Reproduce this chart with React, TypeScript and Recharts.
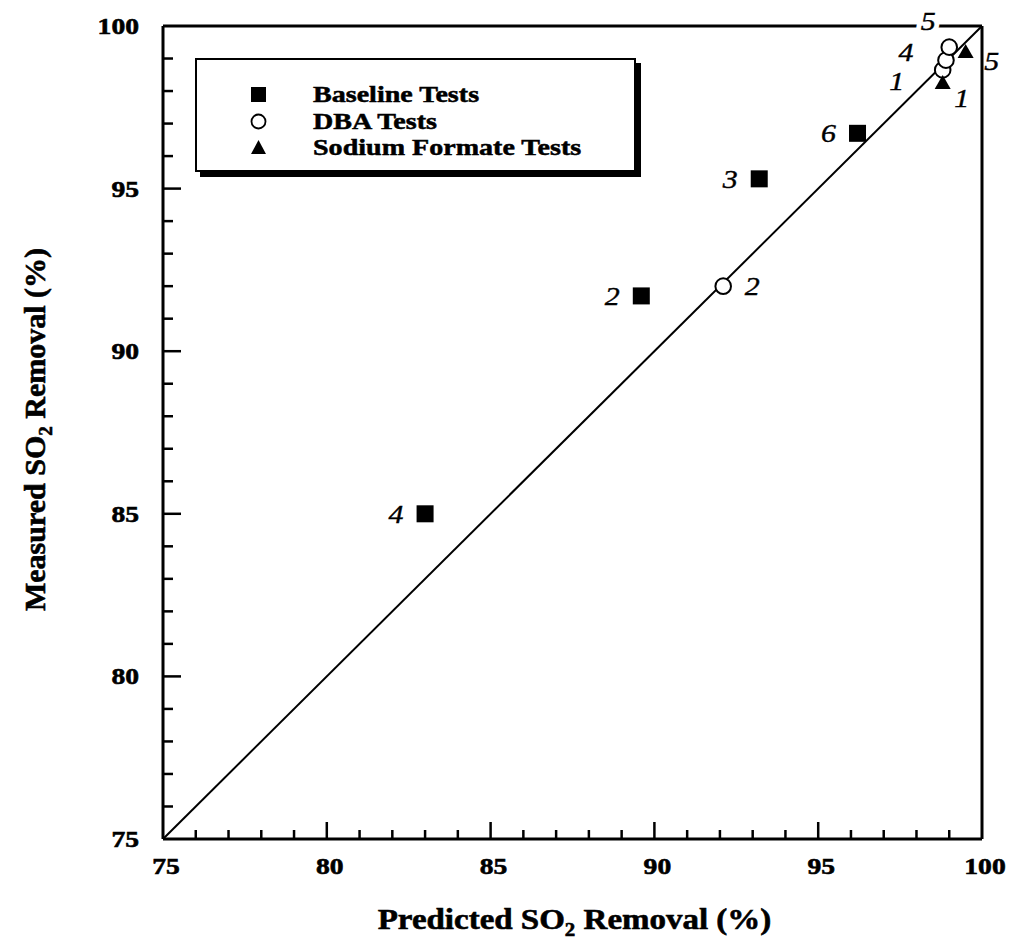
import React from 'react';
import { ScatterChart, Scatter, XAxis, YAxis, ReferenceLine, Legend } from 'recharts';

const FONT = '"Liberation Serif", "Times New Roman", Times, serif';
const INK = '#000';

// Predicted vs. measured SO2 removal (%) per test run
const baselineRuns = ['4', '2', '3', '6'];
const baselinePredicted = [83.0, 89.6, 93.2, 96.2];
const baselineMeasured = [85.0, 91.7, 95.3, 96.7];

const dbaRuns = ['2', '1', '4', '5'];
const dbaPredicted = [92.1, 98.8, 98.9, 99.0];
const dbaMeasured = [92.0, 98.65, 98.95, 99.35];

const formateRuns = ['1', '5'];
const formatePredicted = [98.8, 99.5];
const formateMeasured = [98.25, 99.2];

const seriesNames = ['Baseline Tests', 'DBA Tests', 'Sodium Formate Tests'];

const majorTicks = [75, 80, 85, 90, 95, 100];
const axisTicks = [
  75, 76, 77, 78, 79, 80, 81, 82, 83, 84, 85, 86, 87, 88, 89, 90, 91, 92, 93, 94, 95, 96, 97, 98, 99, 100,
];

type Row = { run: string; predicted: number; measured: number };
const toRows = (runs: string[], xs: number[], ys: number[]): Row[] =>
  runs.map((run, i) => ({ run, predicted: xs[i], measured: ys[i] }));

const baselineRows = toRows(baselineRuns, baselinePredicted, baselineMeasured);
const dbaRows = toRows(dbaRuns, dbaPredicted, dbaMeasured);
const formateRows = toRows(formateRuns, formatePredicted, formateMeasured);

// Where each run number sits relative to its marker (dx, dy, white halo)
type Placement = [number, number, boolean?];
const baselinePlacement: Record<string, Placement> = {
  '4': [-29, 0], '2': [-29, 0], '3': [-29, 0], '6': [-29, 0],
};
const dbaPlacement: Record<string, Placement> = {
  '2': [29, 0], '1': [-46, 11], '4': [-40, -8], '5': [-21, -26, true],
};
const formatePlacement: Record<string, Placement> = {
  '1': [19, 15], '5': [26, 9],
};

const H_STRETCH = 1.15;

const StretchText = ({
  x, y, anchor = 'middle', size = 24, sx = H_STRETCH, children,
}: any) => (
  <text
    transform={`translate(${x},${y}) scale(${sx},1)`}
    textAnchor={anchor}
    fontFamily={FONT}
    fontSize={size}
    fontWeight="bold"
    fill={INK}
    stroke={INK}
    strokeWidth={0.6}
  >
    {children}
  </text>
);

const RunLabel = ({ cx, cy, text, place }: { cx: number; cy: number; text: string; place: Placement }) => {
  const [dx, dy, halo] = place;
  const lx = cx + dx;
  return (
    <g transform={`translate(${lx},${cy + dy + 9}) scale(${H_STRETCH},1)`}>
      {halo && (
        <text
          x={0}
          y={0}
          textAnchor="middle"
          fontFamily={FONT}
          fontSize={26}
          fontStyle="italic"
          fill="#fff"
          stroke="#fff"
          strokeWidth={9}
        >
          {text}
        </text>
      )}
      <text
        x={0}
        y={0}
        textAnchor="middle"
        fontFamily={FONT}
        fontSize={26}
        fontStyle="italic"
        fill={INK}
        stroke={INK}
        strokeWidth={0.4}
      >
        {text}
      </text>
    </g>
  );
};

const SquareMark = ({ cx, cy }: { cx: number; cy: number }) => (
  <rect x={cx - 8.5} y={cy - 8.5} width={17} height={17} fill={INK} />
);
const CircleMark = ({ cx, cy }: { cx: number; cy: number }) => (
  <circle cx={cx} cy={cy} r={7.8} fill="#fff" stroke={INK} strokeWidth={2} />
);
const TriangleMark = ({ cx, cy }: { cx: number; cy: number }) => (
  <polygon points={`${cx},${cy - 8} ${cx + 8},${cy + 6} ${cx - 8},${cy + 6}`} fill={INK} />
);

const makeShape = (Mark: any, placement: Record<string, Placement>) => (props: any) => {
  const { cx, cy, payload } = props;
  if (cx == null || cy == null) return <g />;
  return (
    <g>
      <Mark cx={cx} cy={cy} />
      <RunLabel cx={cx} cy={cy} text={payload.run} place={placement[payload.run] || [-29, 0]} />
    </g>
  );
};

const XTick = (props: any) => {
  const { x, y, payload } = props;
  const v = payload.value;
  const major = majorTicks.includes(v);
  return (
    <g>
      {v > 75 && v < 100 && (
        <line x1={x} x2={x} y1={y} y2={y - (major ? 17 : 9)} stroke={INK} strokeWidth={2.5} />
      )}
      {major && (
        <StretchText x={x + 3} y={y + 35} anchor="middle">
          {v}
        </StretchText>
      )}
    </g>
  );
};

const YTick = (props: any) => {
  const { x, y, payload } = props;
  const v = payload.value;
  const major = majorTicks.includes(v);
  return (
    <g>
      {v > 75 && v < 100 && (
        <line x1={x} x2={x + (major ? 18 : 10)} y1={y} y2={y} stroke={INK} strokeWidth={2.5} />
      )}
      {major && (
        <StretchText x={x - 24} y={y + 8} anchor="end">
          {v}
        </StretchText>
      )}
    </g>
  );
};

const XTitle = ({ viewBox }: any) => {
  const cx = viewBox.x + viewBox.width / 2 + 2;
  const y = viewBox.y + 90;
  return (
    <text
      transform={`translate(${cx},${y}) scale(1.1,1)`}
      textAnchor="middle"
      fontFamily={FONT}
      fontSize={30}
      fontWeight="bold"
      fill={INK}
      stroke={INK}
      strokeWidth={0.6}
    >
      <tspan>Predicted SO</tspan>
      <tspan dy={7} fontSize={19}>2</tspan>
      <tspan dy={-7}> Removal (%)</tspan>
    </text>
  );
};

const YTitle = ({ viewBox }: any) => {
  const cy = viewBox.y + viewBox.height / 2 - 3;
  const x = 45;
  return (
    <text
      transform={`translate(${x},${cy}) rotate(-90)`}
      textAnchor="middle"
      fontFamily={FONT}
      fontSize={30}
      fontWeight="bold"
      fill={INK}
      stroke={INK}
      strokeWidth={0.6}
    >
      <tspan>Measured SO</tspan>
      <tspan dy={7} fontSize={19}>2</tspan>
      <tspan dy={-7}> Removal (%)</tspan>
    </text>
  );
};

const legendIcon = (name: string) => {
  if (name === seriesNames[0]) return <rect x={1} y={1} width={15} height={15} fill={INK} />;
  if (name === seriesNames[1]) return <circle cx={8.5} cy={8.5} r={7} fill="#fff" stroke={INK} strokeWidth={1.8} />;
  return <polygon points="8.5,1 16,15 1,15" fill={INK} />;
};

const LegendBox = ({ payload }: any) => {
  const entries = (payload || []).filter((p: any) => seriesNames.includes(p.value));
  const ordered = seriesNames
    .map((n) => entries.find((e: any) => e.value === n))
    .filter(Boolean);
  return (
    <div
      style={{
        position: 'relative',
        width: 441,
        height: 114,
        boxSizing: 'border-box',
        border: '2px solid #000',
        boxShadow: '5px 5px 0 #000',
        background: '#fff',
        fontFamily: FONT,
        fontWeight: 'bold',
        fontSize: 23,
        color: INK,
        WebkitTextStroke: '0.5px #000',
      }}
    >
      {ordered.map((entry: any, i: number) => (
        <div
          key={entry.value}
          style={{ position: 'absolute', left: 0, top: 35 + 26.5 * i - 14, height: 28, width: '100%' }}
        >
          <svg width={17} height={17} style={{ position: 'absolute', left: 53, top: 5 }}>
            {legendIcon(entry.value)}
          </svg>
          <span
            style={{
              position: 'absolute',
              left: 116,
              top: 0,
              lineHeight: '28px',
              whiteSpace: 'nowrap',
              display: 'inline-block',
              transform: 'scaleX(1.22)',
              transformOrigin: 'left center',
            }}
          >
            {entry.value}
          </span>
        </div>
      ))}
    </div>
  );
};

export default function App() {
  return (
    <div style={{ position: 'absolute', left: 0, top: 0, width: 1011, height: 942, background: '#fff' }}>
      <ScatterChart
        width={1011}
        height={942}
        margin={{ top: 26, right: 29, bottom: 0, left: 0 }}
      >
        <XAxis
          type="number"
          dataKey="predicted"
          domain={[75, 100]}
          ticks={axisTicks}
          interval={0}
          height={103}
          tickSize={0}
          tickMargin={0}
          tickLine={false}
          axisLine={{ stroke: INK, strokeWidth: 3 }}
          tick={<XTick />}
          label={<XTitle />}
        />
        <YAxis
          type="number"
          dataKey="measured"
          domain={[75, 100]}
          ticks={axisTicks}
          interval={0}
          width={163}
          tickSize={0}
          tickMargin={0}
          tickLine={false}
          axisLine={{ stroke: INK, strokeWidth: 3 }}
          tick={<YTick />}
          label={<YTitle />}
        />
        <ReferenceLine y={100} stroke={INK} strokeWidth={3} />
        <ReferenceLine x={100} stroke={INK} strokeWidth={3} />
        <ReferenceLine
          segment={[
            { x: 75, y: 75 },
            { x: 100, y: 100 },
          ]}
          stroke={INK}
          strokeWidth={2}
        />
        <Legend
          layout="horizontal"
          verticalAlign="middle"
          align="center"
          wrapperStyle={{ left: 195, top: 58, width: 'auto' }}
          content={<LegendBox />}
        />
        <Scatter
          name={seriesNames[0]}
          data={baselineRows}
          isAnimationActive={false}
          shape={makeShape(SquareMark, baselinePlacement)}
        />
        <Scatter
          name={seriesNames[1]}
          data={dbaRows}
          isAnimationActive={false}
          shape={makeShape(CircleMark, dbaPlacement)}
        />
        <Scatter
          name={seriesNames[2]}
          data={formateRows}
          isAnimationActive={false}
          shape={makeShape(TriangleMark, formatePlacement)}
        />
      </ScatterChart>
    </div>
  );
}
